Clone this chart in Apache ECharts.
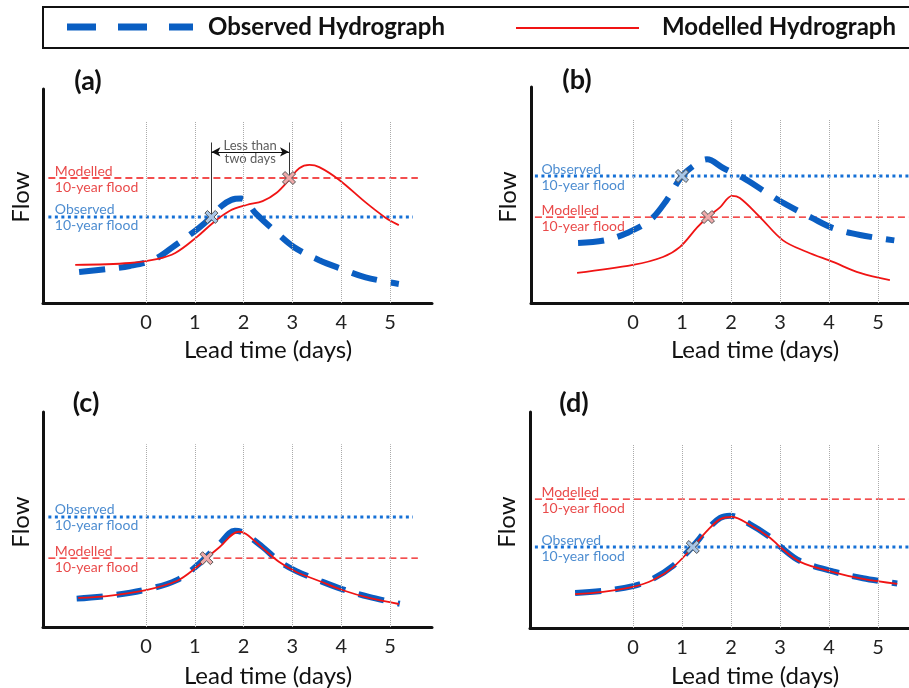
<!DOCTYPE html>
<html>
<head>
<meta charset="utf-8">
<script src="https://cdn.jsdelivr.net/npm/echarts@6/dist/echarts.min.js"></script>
<style>
  html, body { margin: 0; padding: 0; background: #fff; }
  #chart { width: 909px; height: 688px; }
</style>
</head>
<body>
<div id="chart"></div>
<script>
// lead time ticks (days)
const leadTicks = [0, 1, 2, 3, 4, 5];
const panelNames = ['(a)', '(b)', '(c)', '(d)'];

// observed hydrographs [day, flow]
const obsA = [[-1.37, 14.5], [-0.8, 15.9], [-0.33, 17.3], [0.18, 20.5], [0.6, 27], [1.08, 35], [1.34, 40.2], [1.55, 45.3], [1.75, 48.2], [1.95, 48.8], [2.26, 41.6], [2.67, 33], [3.04, 26], [3.55, 20], [4.0, 16], [4.5, 12], [5.18, 8.9]];
const obsB = [[-1.12, 27.8], [-0.57, 29], [-0.12, 32.4], [0.35, 38.4], [0.69, 47.7], [1.0, 58.8], [1.33, 65], [1.51, 66.5], [1.84, 62.5], [2.24, 58], [2.73, 51], [3.14, 45.4], [3.65, 39.4], [4.08, 34.7], [4.63, 31.5], [5.33, 29]];
const obsC = [[-1.42, 13.2], [-0.8, 14.4], [0, 17.4], [0.63, 21.8], [1.04, 28.5], [1.5, 38.5], [1.82, 44.8], [2.0, 43.8], [2.39, 37.2], [2.73, 30.6], [3.08, 26.0], [3.55, 21.6], [4.02, 17.6], [4.57, 14.0], [5.2, 10.8]];
const obsD = [[-1.18, 16.2], [-0.61, 17.2], [0, 19.4], [0.41, 22.8], [0.82, 28.8], [1.22, 37.8], [1.53, 46], [1.78, 51], [1.98, 52], [2.39, 48], [2.8, 42], [3.0, 37.8], [3.41, 31], [4.08, 26.2], [4.69, 23], [5.39, 20.6]];

// modelled hydrographs [day, flow]
const modA = [[-1.45, 17.8], [-0.33, 18.7], [0.22, 20.5], [0.6, 23.4], [1.04, 30.8], [1.37, 37.4], [1.71, 43], [2.06, 45.8], [2.39, 47.6], [2.67, 51.4], [2.94, 57.8], [3.14, 63], [3.35, 64.5], [3.55, 63.5], [3.96, 57.5], [4.5, 47], [4.9, 40], [5.18, 36.4]];
const modB = [[-1.14, 13.9], [0, 17.6], [0.61, 21.3], [0.96, 26], [1.31, 35], [1.53, 39.8], [1.78, 44.4], [2.02, 49.6], [2.18, 48.6], [2.59, 39.8], [3.06, 29], [3.55, 23.6], [4.08, 19], [4.63, 13.9], [5.24, 10.6]];
const modC = [[-1.39, 13.5], [-0.8, 14.4], [0, 17.2], [0.63, 21.4], [1.04, 27.9], [1.24, 32], [1.51, 37.2], [1.9, 44.3], [2.05, 43.3], [2.39, 36.7], [2.73, 30.2], [3.08, 25.6], [3.55, 21.4], [4.02, 17.2], [4.57, 13.5], [5.18, 10.7]];
const modD = [[-1.18, 15.7], [-0.61, 16.7], [0, 19], [0.41, 22.2], [0.82, 28.2], [1.22, 37.5], [1.53, 45.4], [1.78, 50.4], [2.02, 51.4], [2.39, 47.7], [2.8, 41.7], [3.0, 37.5], [3.41, 30.6], [4.08, 25.9], [4.69, 22.7], [5.39, 20.4]];

// 10-year flood thresholds per panel
const floodObs = [40.2, 58.8, 51.2, 37.5];
const floodMod = [58.4, 39.8, 32, 59.7];
const floodObsEnd = [5.47, 5.63, 5.47, 5.63];
const floodModEnd = [5.57, 5.63, 5.57, 5.63];

// threshold crossings [day, flow] (null = none)
const crossObs = [[1.34, 40.2], [1.0, 58.8], null, [1.22, 37.5]];
const crossMod = [[2.93, 58.4], [1.53, 39.8], [1.24, 32], null];

const obsSeries = [obsA, obsB, obsC, obsD];
const modSeries = [modA, modB, modC, modD];

const BLUE = '#0a5ec2';
const DOT_BLUE = '#1570d6';
const RED = '#f01414';
const FONT = 'Lato';
const X_PATH = 'path://M2,0 L5,3 L8,0 L10,2 L7,5 L10,8 L8,10 L5,7 L2,10 L0,8 L3,5 L0,2 Z';

const grids = [
    { left: 43, top: 89, right: 477, bottom: 385 },
    { left: 531, top: 87, right: 0, bottom: 385 },
    { left: 43, top: 412, right: 477, bottom: 61 },
    { left: 530, top: 412, right: 0, bottom: 60 }
];
const xRange = [[-2.11, 5.86], [-2.08, 5.63], [-2.11, 5.86], [-2.1, 5.63]];

const chart = echarts.init(document.getElementById('chart'));

const xAxes = grids.map((g, i) => ({
    gridIndex: i, type: 'value', min: xRange[i][0], max: xRange[i][1],
    axisLine: { show: true, onZero: false, lineStyle: { color: '#111', width: 3 } },
    axisTick: { show: false },
    splitLine: { show: false },
    axisLabel: { customValues: leadTicks, color: '#222', fontSize: 20, fontFamily: FONT, margin: 10 }
}));
const yAxes = grids.map((g, i) => ({
    gridIndex: i, type: 'value', min: 0, max: 100,
    axisLine: { show: true, onZero: false, lineStyle: { color: '#111', width: 3 } },
    axisTick: { show: false }, axisLabel: { show: false }, splitLine: { show: false }
}));

const series = [];
grids.forEach((g, i) => {
    const ax = { xAxisIndex: i, yAxisIndex: i };
    // vertical dotted guides
    series.push(Object.assign({
        type: 'line', data: [], silent: true,
        markLine: {
            silent: true, symbol: 'none', label: { show: false },
            lineStyle: { color: '#aaa', type: 'dotted', width: 1 },
            data: leadTicks.map(t => [{ coord: [t, 0] }, { coord: [t, 85] }])
        }
    }, ax));
    // thresholds
    series.push(Object.assign({
        type: 'line', showSymbol: false, silent: true,
        data: [[-2.0, floodMod[i]], [floodModEnd[i], floodMod[i]]],
        lineStyle: { color: RED, width: 1.3, type: [7, 4] }
    }, ax));
    series.push(Object.assign({
        type: 'line', showSymbol: false, silent: true,
        data: [[-2.0, floodObs[i]], [floodObsEnd[i], floodObs[i]]],
        lineStyle: { color: DOT_BLUE, width: 3, type: [3, 3.5] }
    }, ax));
    // threshold labels
    series.push(Object.assign({
        type: 'scatter', symbolSize: 1, itemStyle: { color: 'rgba(0,0,0,0)' }, silent: true,
        label: { show: true, position: 'right', distance: 6, fontFamily: FONT, fontSize: 14, lineHeight: 16, offset: [0, 1] },
        data: [
            { value: [-2.0, floodObs[i]], label: { formatter: 'Observed\n10-year flood', color: '#1f6fc4' } },
            { value: [-2.0, floodMod[i]], label: { formatter: 'Modelled\n10-year flood', color: '#e41c1c' } }
        ]
    }, ax));
    // hydrographs
    series.push(Object.assign({
        type: 'line', smooth: 0.35, showSymbol: false, data: obsSeries[i],
        lineStyle: { color: BLUE, width: 6, type: [26, 14], cap: 'butt' }
    }, ax));
    series.push(Object.assign({
        type: 'line', smooth: 0.35, showSymbol: false, data: modSeries[i],
        lineStyle: { color: RED, width: 1.8 }
    }, ax));
    // crossing markers
    const crosses = [];
    if (crossObs[i]) crosses.push({ value: crossObs[i], itemStyle: { color: '#a9c6e6' } });
    if (crossMod[i]) crosses.push({ value: crossMod[i], itemStyle: { color: '#efaaaa' } });
    series.push(Object.assign({
        type: 'scatter', symbol: X_PATH, symbolSize: 13, z: 5, data: crosses,
        itemStyle: { borderColor: '#555', borderWidth: 1, opacity: 1 }
    }, ax));
});

// annotation in panel (a)
const annotTop = 75;
const arrowY = 70.6;
series.push({
    type: 'line', xAxisIndex: 0, yAxisIndex: 0, data: [], silent: true,
    markLine: {
        silent: true, symbol: 'none', label: { show: false },
        lineStyle: { color: '#333', width: 1, type: 'solid' },
        data: [
            [{ coord: [crossObs[0][0], crossObs[0][1]] }, { coord: [crossObs[0][0], annotTop] }],
            [{ coord: [crossMod[0][0], crossMod[0][1]] }, { coord: [crossMod[0][0], annotTop] }]
        ]
    }
});
series.push({
    type: 'line', xAxisIndex: 0, yAxisIndex: 0, data: [], silent: true,
    markLine: {
        silent: true, symbol: ['arrow', 'arrow'], symbolSize: [7, 9], label: { show: false },
        lineStyle: { color: '#111', width: 1.2, type: 'solid' },
        data: [[{ coord: [crossObs[0][0], arrowY] }, { coord: [crossMod[0][0], arrowY] }]]
    }
});
series.push({
    type: 'scatter', xAxisIndex: 0, yAxisIndex: 0, symbolSize: 1, silent: true,
    itemStyle: { color: 'rgba(0,0,0,0)' },
    label: { show: true, position: 'inside', formatter: 'Less than\ntwo days', fontFamily: FONT, fontSize: 13, lineHeight: 13, color: '#333' },
    data: [[(crossObs[0][0] + crossMod[0][0]) / 2, arrowY]]
});

// texts: panel letters, axis names, legend
const letterPos = [[88, 81], [577, 80], [86, 403], [574, 403]];
const flowPos = [[21, 197], [508, 197], [21, 522], [507, 522]];
const leadPos = [[268, 350], [755, 350], [268, 676], [755, 676]];
const graphic = [];
panelNames.forEach((n, i) => {
    graphic.push({ type: 'text', x: letterPos[i][0], y: letterPos[i][1],
        style: { text: n, fontFamily: FONT, fontWeight: 'bold', fontSize: 27, fill: '#111', align: 'center', verticalAlign: 'middle' } });
    graphic.push({ type: 'text', x: flowPos[i][0], y: flowPos[i][1], rotation: Math.PI / 2,
        style: { text: 'Flow', fontFamily: FONT, fontSize: 24, fill: '#111', align: 'center', verticalAlign: 'middle' } });
    graphic.push({ type: 'text', x: leadPos[i][0], y: leadPos[i][1],
        style: { text: 'Lead time (days)', fontFamily: FONT, fontSize: 24, fill: '#111', align: 'center', verticalAlign: 'middle' } });
});
graphic.push({ type: 'rect', shape: { x: 43, y: 7, width: 900, height: 41 },
    style: { fill: '#fff', stroke: '#111', lineWidth: 2 }, z: -1 });
graphic.push({ type: 'line', shape: { x1: 67, y1: 27, x2: 193, y2: 27 },
    style: { stroke: BLUE, lineWidth: 7, lineDash: [29, 22] } });
graphic.push({ type: 'text', x: 208, y: 27,
    style: { text: 'Observed Hydrograph', fontFamily: FONT, fontWeight: 'bold', fontSize: 24, fill: '#111', align: 'left', verticalAlign: 'middle' } });
graphic.push({ type: 'line', shape: { x1: 516, y1: 28, x2: 639, y2: 28 },
    style: { stroke: RED, lineWidth: 2 } });
graphic.push({ type: 'text', x: 662, y: 27,
    style: { text: 'Modelled Hydrograph', fontFamily: FONT, fontWeight: 'bold', fontSize: 24, fill: '#111', align: 'left', verticalAlign: 'middle' } });

chart.setOption({
    animation: false,
    backgroundColor: '#fff',
    grid: grids,
    xAxis: xAxes,
    yAxis: yAxes,
    series: series,
    graphic: graphic
});
</script>
</body>
</html>
